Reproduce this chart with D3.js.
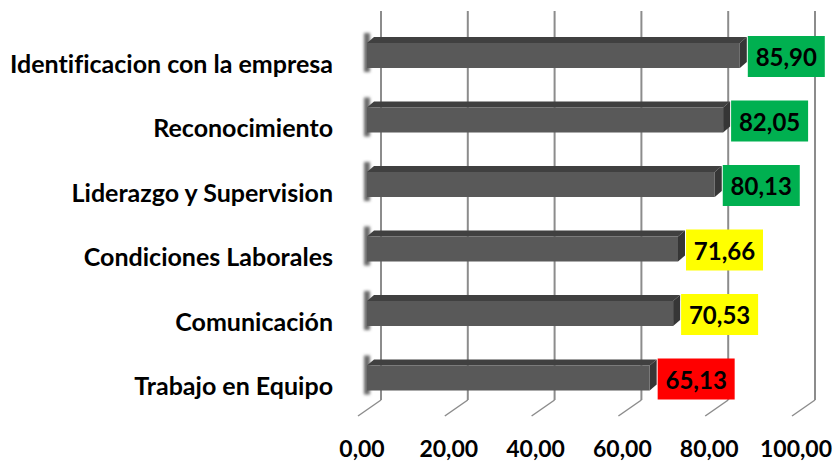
<!DOCTYPE html>
<html>
<head>
<meta charset="utf-8">
<script src="https://cdn.jsdelivr.net/npm/d3@7"></script>
<style>
  body { margin: 0; background: #ffffff; }
  svg { display: block; font-family: Lato, "Liberation Sans", sans-serif; font-weight: bold;
        font-variant-ligatures: none; }
</style>
</head>
<body>
<div id="vis"></div>
<script>
// Data
const CATEGORIES = ["Identificacion con la empresa", "Reconocimiento", "Liderazgo y Supervision",
    "Condiciones Laborales", "Comunicación", "Trabajo en Equipo"];
const VALUES = [85.90, 82.05, 80.13, 71.66, 70.53, 65.13];
const LABEL_COLORS = ["#00b050", "#00b050", "#00b050", "#ffff00", "#ffff00", "#ff0000"];
const TICKS = [0, 20, 40, 60, 80, 100];

// Frame
const FRAME_WIDTH = 833;
const FRAME_HEIGHT = 463;

// 3d depth offsets
const DEPTH = { dx: -23, dy: 16 };     // back wall -> front of floor
const BAR_SHIFT = -14;                  // back wall -> bar front face
const BAR_DEPTH = { dx: 7, dy: -6 };    // bar front -> bar back
const BAR_H = 25;

const FRAME = d3.select("#vis")
    .append("svg")
    .attr("width", FRAME_WIDTH)
    .attr("height", FRAME_HEIGHT);

const defs = FRAME.append("defs");
defs.append("filter").attr("id", "blur")
    .attr("x", "-50%").attr("y", "-50%").attr("width", "200%").attr("height", "200%")
    .append("feGaussianBlur").attr("stdDeviation", 1.6);

// Scales
const X_SCALE = d3.scaleLinear()
    .domain([0, 100])
    .range([381, 815]);

const Y_SCALE = d3.scalePoint()
    .domain(CATEGORIES)
    .range([55.5, 378]);

const fmt = (v) => v.toFixed(2).replace(".", ",");

const GRID_TOP = 11;
const GRID_BOTTOM = 400;

// Gridlines on back wall + floor diagonals
FRAME.selectAll(".grid")
    .data(TICKS)
    .enter()
    .append("line")
    .attr("x1", (d) => X_SCALE(d))
    .attr("x2", (d) => X_SCALE(d))
    .attr("y1", GRID_TOP)
    .attr("y2", GRID_BOTTOM)
    .attr("stroke", "#8c8c8c")
    .attr("stroke-width", 2);

FRAME.selectAll(".floor")
    .data(TICKS)
    .enter()
    .append("line")
    .attr("x1", (d) => X_SCALE(d))
    .attr("x2", (d) => X_SCALE(d) + DEPTH.dx)
    .attr("y1", GRID_BOTTOM)
    .attr("y2", GRID_BOTTOM + DEPTH.dy)
    .attr("stroke", "#8c8c8c")
    .attr("stroke-width", 1.5);

// Tick labels
FRAME.selectAll(".tick-label")
    .data(TICKS)
    .enter()
    .append("text")
    .attr("x", (d) => X_SCALE(d) - 19)
    .attr("y", 457)
    .attr("text-anchor", "middle")
    .attr("font-size", "23px")
    .attr("fill", "#000")
    .text((d) => fmt(d));

// Bars
const bars = FRAME.selectAll(".bar")
    .data(VALUES.map((v, i) => ({ v: v, cat: CATEGORIES[i], color: LABEL_COLORS[i] })))
    .enter()
    .append("g");

const x0 = X_SCALE(0) + BAR_SHIFT;
const xEnd = (d) => X_SCALE(d.v) + BAR_SHIFT;

// blurred left-end shadow
bars.append("rect")
    .attr("x", x0 - 3)
    .attr("y", (d) => Y_SCALE(d.cat) - BAR_H / 2 - 10)
    .attr("width", 6)
    .attr("height", BAR_H + 14)
    .attr("fill", "#6a6a6a")
    .attr("filter", "url(#blur)");

// top face
bars.append("polygon")
    .attr("points", (d) => {
        const c = Y_SCALE(d.cat), t = c - BAR_H / 2;
        return [[x0, t], [xEnd(d), t], [xEnd(d) + BAR_DEPTH.dx, t + BAR_DEPTH.dy],
            [x0 + BAR_DEPTH.dx, t + BAR_DEPTH.dy]].join(" ");
    })
    .attr("fill", "#404040");

// side face
bars.append("polygon")
    .attr("points", (d) => {
        const c = Y_SCALE(d.cat), t = c - BAR_H / 2, b = c + BAR_H / 2;
        return [[xEnd(d), t], [xEnd(d) + BAR_DEPTH.dx, t + BAR_DEPTH.dy],
            [xEnd(d) + BAR_DEPTH.dx, b + BAR_DEPTH.dy], [xEnd(d), b]].join(" ");
    })
    .attr("fill", "#363636");

// front face
bars.append("rect")
    .attr("x", x0)
    .attr("y", (d) => Y_SCALE(d.cat) - BAR_H / 2)
    .attr("width", (d) => xEnd(d) - x0)
    .attr("height", BAR_H)
    .attr("fill", "#595959");

// Value label boxes
bars.append("rect")
    .attr("x", (d) => xEnd(d) + BAR_DEPTH.dx + 1)
    .attr("y", (d) => Y_SCALE(d.cat) - 19.5)
    .attr("width", 77)
    .attr("height", 41)
    .attr("fill", (d) => d.color);

bars.append("text")
    .attr("x", (d) => xEnd(d) + BAR_DEPTH.dx + 1 + 38.5)
    .attr("y", (d) => Y_SCALE(d.cat) + 1)
    .attr("text-anchor", "middle")
    .attr("dominant-baseline", "central")
    .attr("font-size", "24px")
    .attr("fill", "#000")
    .text((d) => fmt(d.v));

// Category labels
FRAME.selectAll(".cat")
    .data(CATEGORIES)
    .enter()
    .append("text")
    .attr("x", 333)
    .attr("y", (d) => Y_SCALE(d) + 7)
    .attr("text-anchor", "end")
    .attr("dominant-baseline", "central")
    .attr("font-size", "25px")
    .attr("fill", "#000")
    .text((d) => d);
</script>
</body>
</html>
